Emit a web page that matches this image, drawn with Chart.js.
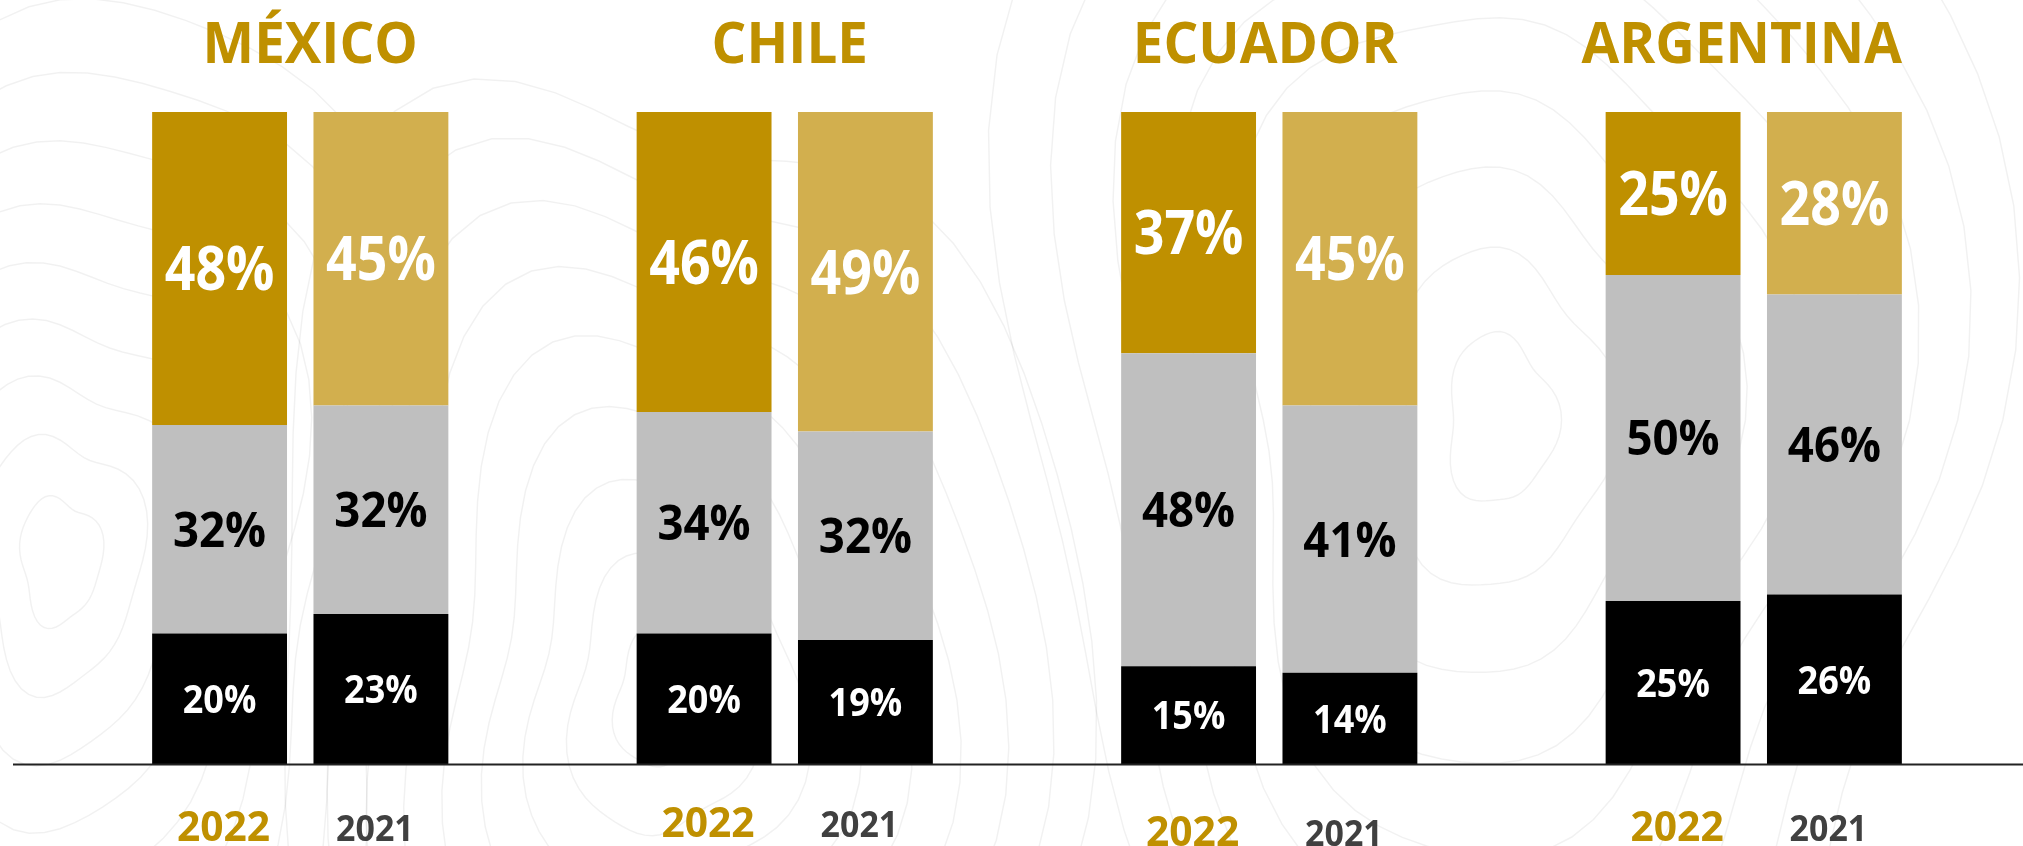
<!DOCTYPE html>
<html><head><meta charset="utf-8">
<script src="https://cdn.jsdelivr.net/npm/chart.js@4.4.0/dist/chart.umd.min.js"></script>
<style>html,body{margin:0;padding:0;background:#fff;overflow:hidden}#wrap{width:2023px;height:846px;position:relative}</style>
</head><body><div id="wrap"><canvas id="c"></canvas></div>
<script>
// ---- data ----
const countries = ['MÉXICO', 'CHILE', 'ECUADOR', 'ARGENTINA'];
const years = ['2022', '2021'];
const black2022 = [20, 20, 15, 25];
const gray2022  = [32, 34, 48, 50];
const gold2022  = [48, 46, 37, 25];
const black2021 = [23, 19, 14, 26];
const gray2021  = [32, 32, 41, 46];
const gold2021  = [45, 49, 45, 28];
const yTicks = [0, 100];

// ---- styles / layout tweaks ----
const GOLD = '#BF9000', GOLD_LIGHT = '#D2AF4E', GRAY = '#BFBFBF', BLACK = '#000000';
const FONT = '"Open Sans", "Noto Sans", sans-serif';
const CAP = 0.714;
const titleShift = [10, 5, -4, -12];
const yearShift = [0, -4, 5, 0];

function ds(label, data, color, stack, textColor, size, sx) {
  return { label, data, backgroundColor: color, stack, borderWidth: 0,
           categoryPercentage: 0.666, barPercentage: 0.836,
           _textColor: textColor, _size: size, _sx: sx };
}

function txt(ctx, s, x, y, sx) {
  ctx.save(); ctx.translate(x, y); ctx.scale(sx, 1); ctx.fillText(s, 0, 0); ctx.restore();
}

const bgPlugin = {
  id: 'bg',
  beforeDraw(chart) {
    const ctx = chart.ctx;
    ctx.save();
    ctx.fillStyle = '#FFFFFF';
    ctx.fillRect(0, 0, chart.width, chart.height);
    // faint decorative topographic contours
    ctx.strokeStyle = 'rgba(0,0,0,0.055)';
    ctx.lineWidth = 1.5;
    const centers = [[660, 700, 1.0], [1500, 420, 1.2], [60, 560, 0.9]];
    centers.forEach(([cx, cy, k], ci) => {
      for (let r = 1; r <= 9; r++) {
        ctx.beginPath();
        for (let a = 0; a <= 72; a++) {
          const t = a / 72 * Math.PI * 2;
          const wob = 1 + 0.10 * Math.sin(3 * t + ci + r * 0.25) + 0.05 * Math.sin(5 * t + ci * 2);
          const rx = r * 45 * k * wob, ry = r * 70 * k * wob;
          const px = cx + rx * Math.cos(t), py = cy + ry * Math.sin(t);
          if (a === 0) ctx.moveTo(px, py); else ctx.lineTo(px, py);
        }
        ctx.stroke();
      }
    });
    ctx.restore();
  }
};

const labelPlugin = {
  id: 'labels',
  afterDatasetsDraw(chart) {
    const ctx = chart.ctx;
    const xs = chart.scales.x, ys = chart.scales.y;
    ctx.save();
    const y0 = ys.getPixelForValue(0);
    ctx.strokeStyle = '#222';
    ctx.lineWidth = 2;
    ctx.beginPath(); ctx.moveTo(13, y0 + 0.5); ctx.lineTo(chart.width, y0 + 0.5); ctx.stroke();

    ctx.textAlign = 'center';
    ctx.textBaseline = 'alphabetic';
    chart.data.datasets.forEach((d, i) => {
      const meta = chart.getDatasetMeta(i);
      meta.data.forEach((bar, j) => {
        const p = bar.getProps(['x', 'y', 'base'], true);
        const cy = (p.y + p.base) / 2;
        ctx.font = 'bold ' + d._size + 'px ' + FONT;
        ctx.fillStyle = d._textColor;
        txt(ctx, d.data[j] + '%', p.x, cy + CAP * d._size / 2, d._sx);
      });
    });
    ctx.font = 'bold 57px ' + FONT;
    ctx.fillStyle = GOLD;
    countries.forEach((c, j) => {
      txt(ctx, c, xs.getPixelForValue(j) + titleShift[j], 63, 0.96);
    });
    const firstOfStack = [0, 3];
    years.forEach((yr, k) => {
      const meta = chart.getDatasetMeta(firstOfStack[k]);
      const size = k === 0 ? 42 : 35;
      ctx.font = 'bold ' + size + 'px ' + FONT;
      ctx.fillStyle = k === 0 ? GOLD : '#404040';
      meta.data.forEach((bar, j) => {
        txt(ctx, yr, bar.x + (k === 0 ? 4 : -6), 841 + yearShift[j], 0.97);
      });
    });
    ctx.restore();
  }
};

new Chart(document.getElementById('c'), {
  type: 'bar',
  data: {
    labels: countries,
    datasets: [
      ds('2022 black', black2022, BLACK, '2022', '#FFFFFF', 40, 0.9),
      ds('2022 gray',  gray2022,  GRAY,  '2022', '#000000', 49, 0.93),
      ds('2022 gold',  gold2022,  GOLD,  '2022', '#FFFFFF', 61, 0.88),
      ds('2021 black', black2021, BLACK, '2021', '#FFFFFF', 40, 0.9),
      ds('2021 gray',  gray2021,  GRAY,  '2021', '#000000', 49, 0.93),
      ds('2021 gold',  gold2021,  GOLD_LIGHT, '2021', '#FFFFFF', 61, 0.88)
    ]
  },
  options: {
    responsive: true,
    maintainAspectRatio: false,
    animation: false,
    layout: { padding: { left: 58, right: 27, top: 112, bottom: 82 } },
    plugins: { legend: { display: false }, tooltip: { enabled: false }, title: { display: false } },
    scales: {
      x: { stacked: true, display: false },
      y: { stacked: true, display: false, min: yTicks[0], max: yTicks[1] }
    }
  },
  plugins: [bgPlugin, labelPlugin]
});
</script>
</body></html>
